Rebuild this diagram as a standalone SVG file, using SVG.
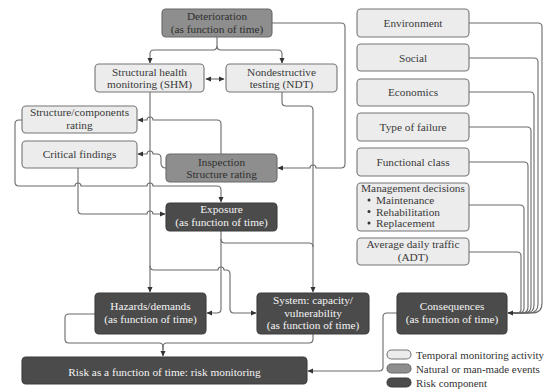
<svg xmlns="http://www.w3.org/2000/svg" width="548" height="390" viewBox="0 0 548 390">
<defs>
<style>
text{font-family:"Liberation Serif","Times New Roman",serif;font-size:11.3px;text-anchor:middle}
.l rect{fill:#ececec;stroke:#747474;stroke-width:1.1}
.l text{fill:#3a3a3a}
.m rect{fill:#8e8e8e;stroke:#686868;stroke-width:1.1}
.m text{fill:#2e2e2e}
.d rect{fill:#4b4b4b;stroke:#3c3c3c;stroke-width:1.1}
.d text{fill:#f4f4f4}
#connectors path{fill:none;stroke:#6a6a6a;stroke-width:1.1}
.a{marker-end:url(#ah)}
.lg text{text-anchor:start;font-size:10.9px;fill:#333}
</style>
<marker id="ah" viewBox="0 0 10 10" refX="9" refY="5" markerWidth="6" markerHeight="6" markerUnits="userSpaceOnUse" orient="auto-start-reverse">
<path d="M0,0.5 L10,5 L0,9.5 Z" fill="#333"/>
</marker>
</defs>
<rect width="548" height="390" fill="#fff"/>

<g id="connectors">
<path class="a" d="M217,37 V46 Q217,50 213,50 H154 Q150,50 150,54 V63"/>
<path class="a" d="M217,46 Q217,50 221,50 H278 Q282,50 282,54 V63"/>
<path d="M206,79 H224" style="marker-start:url(#ah);marker-end:url(#ah)"/>
<path class="a" d="M272,23 H341 Q345,23 345,27 V164 Q345,168 341,168 H316 A3,3 0 0 0 310,168 H278"/>
<path class="a" d="M282,92 V102 Q282,106 286,106 H309 Q313,106 313,110 V292"/>
<path class="a" d="M150,92 V292"/>
<path class="a" d="M221,154 V124 Q221,120 217,120 H153 A3,3 0 0 0 147,120 H138"/>
<path class="a" d="M166,168 Q161,168 161,163 V158 Q161,154 157,154 H153 A3,3 0 0 0 147,154 H138"/>
<path class="a" d="M22,120 H19 Q15,120 15,124 V182 Q15,186 19,186 H75 A3,3 0 0 1 81,186 H147 A3,3 0 0 1 153,186 H217 Q221,186 221,190 V202"/>
<path class="a" d="M78,168 V210 Q78,214 82,214 H147 A3,3 0 0 1 153,214 H165"/>
<path class="a" d="M221,231 V309 Q221,313 217,313 H207"/>
<path d="M221,239 Q221,243 225,243 H309 Q313,243 313,247"/>
<path class="a" d="M150,266 Q150,270 154,270 H218 A3,3 0 0 1 224,270 H226 Q230,270 230,274 V309 Q230,313 234,313 H256"/>
<path d="M95,314 H69 Q65,314 65,318 V339 Q65,343 69,343 H159 Q163,343 163,347 V350"/>
<path class="a" d="M313,334 V339 Q313,343 309,343 H167 Q163,343 163,347 V356"/>
<path class="a" d="M397,313 H387 Q383,313 383,317 V367 Q383,371 379,371 H308"/>
<path d="M469,23 H538 Q542,23 542,27 V303 Q542,313 532,313 H508"/>
<path d="M469,58 H534 Q538,58 538,62 V304 Q538,313 529,313 H508"/>
<path d="M469,92 H530 Q534,92 534,96 V305 Q534,313 526,313 H508"/>
<path d="M469,127 H527 Q531,127 531,131 V306 Q531,313 524,313 H508"/>
<path d="M469,162 H524 Q528,162 528,166 V307 Q528,313 522,313 H508"/>
<path d="M469,205 H520 Q524,205 524,209 V308 Q524,313 519,313 H508"/>
<path class="a" d="M469,252 H517 Q521,252 521,256 V309 Q521,313 517,313 H508"/>
</g>

<g id="deterioration" class="m"><rect x="162" y="9" width="110" height="28" rx="4"/><text x="217" y="19.5">Deterioration</text><text x="217" y="32.5">(as function of time)</text></g>
<g id="shm" class="l"><rect x="95" y="64" width="109" height="28" rx="4"/><text x="149.5" y="75.5">Structural health</text><text x="149.5" y="88">monitoring (SHM)</text></g>
<g id="ndt" class="l"><rect x="226" y="64" width="111" height="28" rx="4"/><text x="281.5" y="75.5">Nondestructive</text><text x="281.5" y="88">testing (NDT)</text></g>
<g id="structure-rating" class="l"><rect x="22" y="106" width="115" height="27" rx="4"/><text x="79.5" y="116">Structure/components</text><text x="79.5" y="129">rating</text></g>
<g id="critical-findings" class="l"><rect x="22" y="141" width="115" height="27" rx="4"/><text x="79.5" y="158">Critical findings</text></g>
<g id="inspection" class="m"><rect x="166" y="154" width="111" height="28" rx="4"/><text x="221.5" y="165.5">Inspection</text><text x="221.5" y="178">Structure rating</text></g>
<g id="exposure" class="d"><rect x="166" y="203" width="111" height="28" rx="4"/><text x="221.5" y="213">Exposure</text><text x="221.5" y="226">(as function of time)</text></g>
<g id="hazards" class="d"><rect x="95" y="293" width="111" height="41" rx="4"/><text x="150.5" y="310">Hazards/demands</text><text x="150.5" y="323">(as function of time)</text></g>
<g id="system" class="d"><rect x="257" y="293" width="112" height="41" rx="4"/><text x="313" y="304">System: capacity/</text><text x="313" y="316.5">vulnerability</text><text x="313" y="329">(as function of time)</text></g>
<g id="risk" class="d"><rect x="22" y="357" width="285" height="27" rx="4"/><text x="164.5" y="375.5">Risk as a function of time: risk monitoring</text></g>

<g id="environment" class="l"><rect x="357" y="9" width="112" height="28" rx="4"/><text x="413" y="27">Environment</text></g>
<g id="social" class="l"><rect x="357" y="44" width="112" height="27" rx="4"/><text x="413" y="61.5">Social</text></g>
<g id="economics" class="l"><rect x="357" y="79" width="112" height="27" rx="4"/><text x="413" y="96">Economics</text></g>
<g id="type-of-failure" class="l"><rect x="357" y="113" width="112" height="28" rx="4"/><text x="413" y="131">Type of failure</text></g>
<g id="functional-class" class="l"><rect x="357" y="148" width="112" height="28" rx="4"/><text x="413" y="166">Functional class</text></g>
<g id="management" class="l"><rect x="357" y="183" width="112" height="48" rx="4"/>
<text x="413" y="192">Management decisions</text>
<circle cx="369" cy="200" r="1.5" fill="#333"/><text x="376" y="204" style="text-anchor:start">Maintenance</text>
<circle cx="369" cy="211.5" r="1.5" fill="#333"/><text x="376" y="215.5" style="text-anchor:start">Rehabilitation</text>
<circle cx="369" cy="223" r="1.5" fill="#333"/><text x="376" y="227" style="text-anchor:start">Replacement</text></g>
<g id="adt" class="l"><rect x="357" y="238" width="112" height="27" rx="4"/><text x="413" y="248">Average daily traffic</text><text x="413" y="261">(ADT)</text></g>
<g id="consequences" class="d"><rect x="397" y="293" width="110" height="41" rx="4"/><text x="452" y="310">Consequences</text><text x="452" y="323">(as function of time)</text></g>

<g id="legend" class="lg">
<g class="l"><rect x="387" y="350" width="24" height="9" rx="4.5"/></g>
<g class="m"><rect x="387" y="364" width="24" height="9" rx="4.5"/></g>
<g class="d"><rect x="387" y="378" width="24" height="9" rx="4.5"/></g>
<text x="416" y="358.5" textLength="128" lengthAdjust="spacingAndGlyphs">Temporal monitoring activity</text>
<text x="416" y="372.5">Natural or man-made events</text>
<text x="416" y="386.5">Risk component</text>
</g>
</svg>
